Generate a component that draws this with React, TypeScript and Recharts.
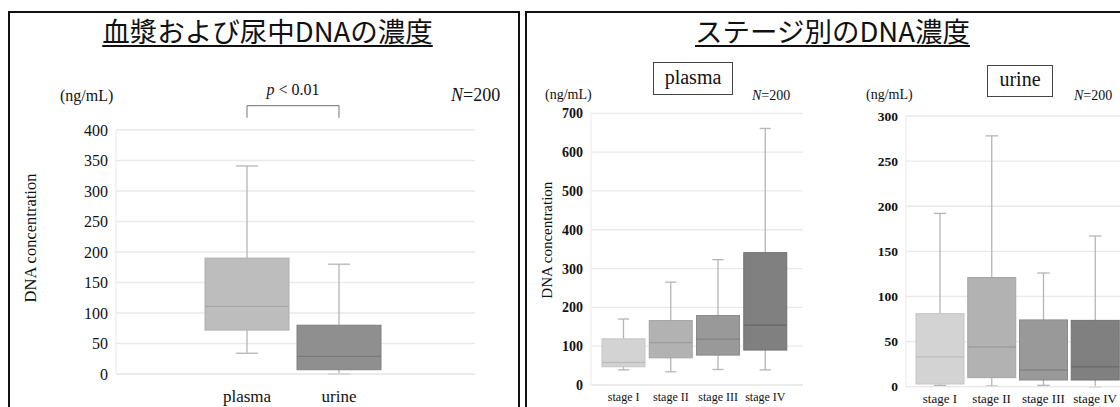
import { FC } from "react";
import { Bar, BarChart, CartesianGrid, Label, ReferenceLine, XAxis, YAxis } from "recharts";

// overall plasma vs urine
const totalCategories = ["plasma", "urine"];
const totalMin = [34, 0];
const totalQ1 = [72, 7];
const totalMedian = [111, 29];
const totalQ3 = [190, 80];
const totalMax = [341, 180];
const totalTicks = [0, 50, 100, 150, 200, 250, 300, 350, 400];

// by stage
const stages = ["stage I", "stage II", "stage III", "stage IV"];
const plasmaMin = [39, 34, 40, 39];
const plasmaQ1 = [47, 70, 77, 90];
const plasmaMedian = [58, 109, 118, 154];
const plasmaQ3 = [119, 166, 179, 341];
const plasmaMax = [170, 265, 323, 661];
const plasmaTicks = [0, 100, 200, 300, 400, 500, 600, 700];

const urineMin = [1.5, 0.7, 1.5, 0];
const urineQ1 = [3, 10, 7.4, 7.4];
const urineMedian = [33, 44, 18.5, 22];
const urineQ3 = [81, 121, 74, 73.5];
const urineMax = [192, 278, 126, 167];
const urineTicks = [0, 50, 100, 150, 200, 250, 300];

const totalColors = ["#bdbdbd", "#8f8f8f"];
const stageColors = ["#d3d3d3", "#b2b2b2", "#999999", "#808080"];

const SERIF = '"Liberation Serif", "Times New Roman", serif';
const GRID = "#e9e9e9";

const rows = (names: string[], mn: number[], q1: number[], md: number[], q3: number[], mx: number[]) =>
  names.map((name, i) => ({
    name,
    range: [mn[i], mx[i]],
    q1: q1[i],
    median: md[i],
    q3: q3[i],
  }));

const totalData = rows(totalCategories, totalMin, totalQ1, totalMedian, totalQ3, totalMax);
const plasmaData = rows(stages, plasmaMin, plasmaQ1, plasmaMedian, plasmaQ3, plasmaMax);
const urineData = rows(stages, urineMin, urineQ1, urineMedian, urineQ3, urineMax);

const darker = (hex: string, k: number) => {
  const v = Math.max(0, parseInt(hex.slice(1, 3), 16) - k);
  const h = v.toString(16).padStart(2, "0");
  return `#${h}${h}${h}`;
};

// whole box plot drawn inside the [min, max] bar, using the bar's own pixel span
const boxShape = (colors: string[]) => (props: any) => {
  const { x, y, width, height, payload, index } = props;
  const [lo, hi] = payload.range;
  const toY = (v: number) => y + (height * (hi - v)) / (hi - lo);
  const cx = x + width / 2;
  const cap = width * 0.13;
  const fill = colors[index % colors.length];
  const yq3 = toY(payload.q3);
  const yq1 = toY(payload.q1);
  const ym = toY(payload.median);
  const wStroke = "#b5b5b5";
  return (
    <g>
      <line x1={cx} x2={cx} y1={y} y2={y + height} stroke={wStroke} strokeWidth={1.3} />
      <line x1={cx - cap} x2={cx + cap} y1={y} y2={y} stroke={wStroke} strokeWidth={1.3} />
      <line x1={cx - cap} x2={cx + cap} y1={y + height} y2={y + height} stroke={wStroke} strokeWidth={1.3} />
      <rect x={x} y={yq3} width={width} height={yq1 - yq3} fill={fill} stroke={darker(fill, 14)} strokeWidth={1} />
      <line x1={x} x2={x + width} y1={ym} y2={ym} stroke={darker(fill, 22)} strokeWidth={1.3} />
    </g>
  );
};

// rotated y-axis title, dx = baseline offset from the axis box's left edge
const axisTitle = (dx: number, dy: number, size: number) => (props: any) => {
  const vb = props.viewBox;
  const tx = vb.x + dx;
  const ty = vb.y + vb.height / 2 + dy;
  return (
    <text x={tx} y={ty} transform={`rotate(-90, ${tx}, ${ty})`} textAnchor="middle" fontSize={size} fill="#111" fontFamily={SERIF}>
      DNA concentration
    </text>
  );
};

const pLabel = (props: any) => {
  const vb = props.viewBox;
  const cx = vb.x + vb.width / 2;
  return (
    <text x={cx} y={vb.y - 11} textAnchor="middle" fontSize={16} fill="#111" fontFamily={SERIF}>
      <tspan fontStyle="italic">p</tspan> &lt; 0.01
    </text>
  );
};

const abs = (left: number, top: number, extra: any = {}) => ({ position: "absolute" as const, left, top, ...extra });

const NText: FC<{ left: number; top: number; size: number }> = ({ left, top, size }) => (
  <div style={abs(left, top, { fontSize: size, lineHeight: 1, whiteSpace: "nowrap" })}>
    <i>N</i>=200
  </div>
);

const App: FC = () => {
  return (
    <div
      style={{
        position: "absolute",
        left: 0,
        top: 0,
        width: 1120,
        height: 407,
        overflow: "hidden",
        background: "#fff",
        fontFamily: SERIF,
        color: "#111",
      }}
    >
      {/* panel frames */}
      <div style={abs(8, 11, { width: 512, height: 420, border: "2px solid #111", boxSizing: "border-box" })} />
      <div style={abs(525, 11, { width: 640, height: 420, border: "2px solid #111", boxSizing: "border-box" })} />

      {/* titles */}
      {[
        { text: "血漿および尿中DNAの濃度", left: 0, width: 535 },
        { text: "ステージ別のDNA濃度", left: 525, width: 615 },
      ].map((t) => (
        <div
          key={t.text}
          style={abs(t.left, 17, {
            width: t.width,
            textAlign: "center",
            fontFamily: '"Noto Sans CJK JP", sans-serif',
            fontSize: 27.5,
            lineHeight: 1,
            textDecoration: "underline",
            textDecorationThickness: "1.5px",
            textUnderlineOffset: "3px",
          })}
        >
          {t.text}
        </div>
      ))}

      {/* left chart annotations */}
      <div style={abs(60, 87.5, { fontSize: 16, lineHeight: 1 })}>(ng/mL)</div>
      <NText left={451} top={86} size={18} />

      <div style={abs(10, 60)}>
        <BarChart width={490} height={350} data={totalData} margin={{ top: 70, right: 25, left: 66, bottom: 6 }} barSize={84}>
          <CartesianGrid vertical={false} stroke={GRID} strokeWidth={1.3} />
          <XAxis
            dataKey="name"
            padding={{ left: 85, right: 90 }}
            tickLine={false}
            axisLine={{ stroke: GRID }}
            tickMargin={10}
            height={30}
            interval={0}
            tick={{ fontSize: 17, fill: "#111", fontFamily: SERIF }}
          />
          <YAxis
            domain={[0, 400]}
            ticks={totalTicks}
            width={40}
            tickLine={false}
            axisLine={{ stroke: GRID }}
            tick={{ fontSize: 16, fill: "#111", fontFamily: SERIF }}
          >
            <Label content={axisTitle(-40, -14, 16.5)} />
          </YAxis>
          <ReferenceLine
            segment={[{ x: "plasma", y: 440 }, { x: "urine", y: 440 }]}
            stroke="#8a8a8a"
            strokeWidth={1.2}
            ifOverflow="visible"
          >
            <Label content={pLabel} />
          </ReferenceLine>
          <ReferenceLine segment={[{ x: "plasma", y: 420 }, { x: "plasma", y: 440 }]} stroke="#8a8a8a" strokeWidth={1.2} ifOverflow="visible" />
          <ReferenceLine segment={[{ x: "urine", y: 420 }, { x: "urine", y: 440 }]} stroke="#8a8a8a" strokeWidth={1.2} ifOverflow="visible" />
          <Bar dataKey="range" isAnimationActive={false} shape={boxShape(totalColors)} />
        </BarChart>
      </div>

      {/* plasma by stage */}
      <div style={abs(653, 62, { width: 80, height: 33, border: "1.5px solid #444", boxSizing: "border-box", fontSize: 20, lineHeight: "28px", textAlign: "center" })}>
        plasma
      </div>
      <div style={abs(545, 87.5, { fontSize: 14, lineHeight: 1 })}>(ng/mL)</div>
      <NText left={752} top={89} size={14} />

      <div style={abs(525, 90)}>
        <BarChart width={283} height={325} data={plasmaData} margin={{ top: 23.3, right: 5, left: 26, bottom: 5 }} barSize={43}>
          <CartesianGrid vertical={false} stroke={GRID} strokeWidth={1.3} />
          <XAxis
            dataKey="name"
            padding={{ left: 9, right: 14 }}
            tickLine={false}
            axisLine={{ stroke: GRID }}
            tickMargin={1}
            height={25}
            interval={0}
            tick={{ fontSize: 12, fill: "#111", fontFamily: SERIF }}
          />
          <YAxis
            domain={[0, 700]}
            ticks={plasmaTicks}
            width={40}
            tickLine={false}
            axisLine={{ stroke: GRID }}
            tick={{ fontSize: 14, fill: "#111", fontFamily: SERIF, fontWeight: "bold" }}
          >
            <Label content={axisTitle(1, -9, 15)} />
          </YAxis>
          <Bar dataKey="range" isAnimationActive={false} shape={boxShape(stageColors)} />
        </BarChart>
      </div>

      {/* urine by stage */}
      <div style={abs(987, 65, { width: 66, height: 32, border: "1.5px solid #444", boxSizing: "border-box", fontSize: 20, lineHeight: "27px", textAlign: "center" })}>
        urine
      </div>
      <div style={abs(866, 87.5, { fontSize: 14, lineHeight: 1 })}>(ng/mL)</div>
      <NText left={1074} top={89} size={14} />

      <div style={abs(850, 90)}>
        <BarChart width={286} height={326.7} data={urineData} margin={{ top: 26, right: 5, left: 22, bottom: 5 }} barSize={48}>
          <CartesianGrid vertical={false} stroke={GRID} strokeWidth={1.3} />
          <XAxis
            dataKey="name"
            padding={{ left: 8, right: 10 }}
            tickLine={false}
            axisLine={{ stroke: GRID }}
            tickMargin={1}
            height={25}
            interval={0}
            tick={{ fontSize: 13, fill: "#111", fontFamily: SERIF }}
          />
          <YAxis
            domain={[0, 300]}
            ticks={urineTicks}
            width={34}
            tickLine={false}
            axisLine={{ stroke: GRID }}
            tick={{ fontSize: 13.5, fill: "#111", fontFamily: SERIF, fontWeight: "bold" }}
          />
          <Bar dataKey="range" isAnimationActive={false} shape={boxShape(stageColors)} />
        </BarChart>
      </div>
    </div>
  );
};

export default App;
